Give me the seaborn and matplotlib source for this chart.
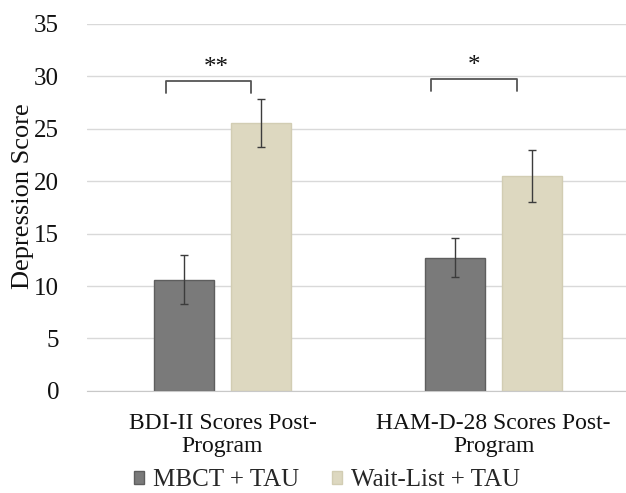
import pandas as pd
import seaborn as sns
import matplotlib.pyplot as plt

# Values
measures = ['BDI-II Scores Post-\nProgram', 'HAM-D-28 Scores Post-\nProgram']
groups = ['MBCT + TAU', 'Wait-List + TAU']
mbct_means = [10.6, 12.7]
waitlist_means = [25.5, 20.5]
mbct_err = [2.35, 1.85]
waitlist_err = [2.3, 2.5]
stars = ['**', '*']
# bracket spans relative to category centre (hand drawn in the original)
bracket_left = [-0.21, -0.23]
bracket_right = [0.105, 0.085]
bracket_top = [29.5, 29.7]
bracket_leg = 1.1

df = pd.DataFrame({
    'measure': measures * 2,
    'group': [groups[0]] * 2 + [groups[1]] * 2,
    'score': mbct_means + waitlist_means,
    'err': mbct_err + waitlist_err,
})

colors = {'MBCT + TAU': '#7a7a7a', 'Wait-List + TAU': '#ddd8c0'}
edges = {'MBCT + TAU': '#5e5e5e', 'Wait-List + TAU': '#d2cdb3'}

sns.set_style('white')
plt.rcParams['font.family'] = ['Liberation Serif', 'DejaVu Serif']

fig = plt.figure(figsize=(6.26, 4.93), dpi=100)
ax = fig.add_axes([0.139, 0.207, 0.866, 0.745])

sns.barplot(data=df, x='measure', y='score', hue='group', order=measures,
            hue_order=groups, palette=colors, saturation=1, width=0.568, gap=0.225,
            errorbar=None, ax=ax, legend=False)

# error bars and bar outlines
for i, g in enumerate(groups):
    cont = ax.containers[i]
    sub = df[df['group'] == g].set_index('measure').loc[measures]
    xs = [p.get_x() + p.get_width() / 2 for p in cont.patches]
    for p in cont.patches:
        p.set_edgecolor(edges[g])
        p.set_linewidth(1)
    ax.errorbar(xs, sub['score'], yerr=sub['err'], fmt='none',
                ecolor='#3c3c3c', elinewidth=1, capsize=3, capthick=1, zorder=5)

# significance brackets
for i in range(len(measures)):
    x0 = i + bracket_left[i]
    x1 = i + bracket_right[i]
    yt = bracket_top[i]
    ax.plot([x0, x0, x1, x1], [yt - bracket_leg, yt, yt, yt - bracket_leg],
            color='#555555', lw=1.3, solid_joinstyle='round')
    ax.text((x0 + x1) / 2 + (0.03 if i == 0 else 0), yt + 0.25, stars[i],
            ha='center', va='bottom', fontsize=18, color='#111111')

ax.set_xlim(-0.5, 1.5)
ax.set_ylim(0, 35)
ax.set_yticks(range(0, 36, 5))
ax.yaxis.grid(True, color='#d9d9d9', linewidth=1)
ax.set_axisbelow(True)
for s in ['top', 'right', 'left']:
    ax.spines[s].set_visible(False)
ax.spines['bottom'].set_color('#c8c8c8')
ax.tick_params(axis='both', length=0, labelsize=18, colors='#111111')
ax.tick_params(axis='x', pad=16, labelsize=17)
ax.tick_params(axis='y', pad=20)
for lab in ax.get_xticklabels():
    lab.set_linespacing(1.12)
ax.set_xlabel('')
ax.set_ylabel('Depression Score', fontsize=19, color='#111111')
ax.yaxis.set_label_coords(-0.098, 0.53)

handles = [plt.Rectangle((0, 0), 1, 1, facecolor=colors[g], edgecolor=edges[g]) for g in groups]
fig.legend(handles, groups, loc='lower center', bbox_to_anchor=(0.522, -0.042), ncol=2,
           frameon=False, fontsize=18, handlelength=0.42, handleheight=0.42,
           handletextpad=0.35, columnspacing=1.3)

fig.savefig('out.png', dpi=100)
